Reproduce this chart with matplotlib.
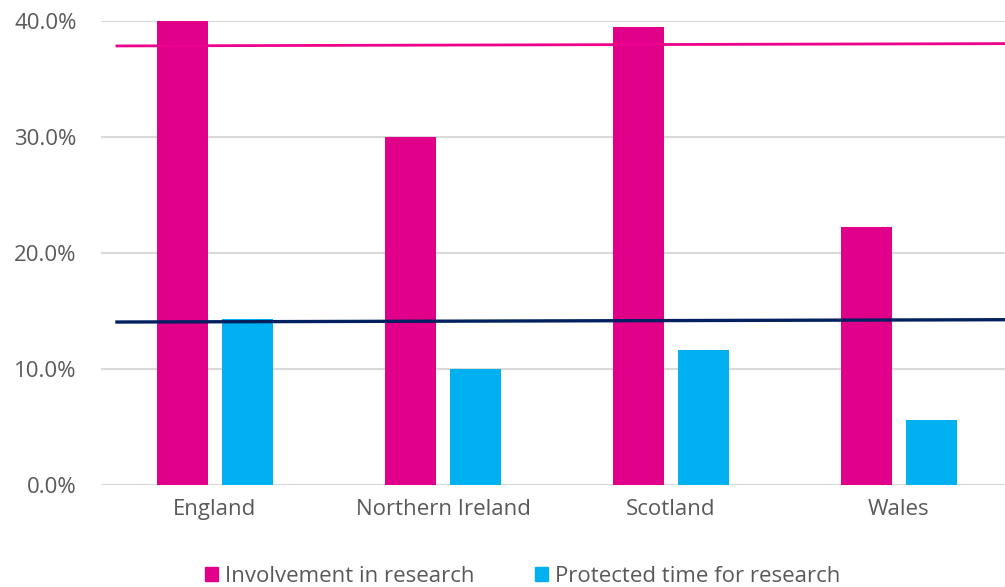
import matplotlib.pyplot as plt
import matplotlib.patches as mpatches
import numpy as np

plt.rcParams["font.family"] = ["Open Sans", "DejaVu Sans"]

countries = ["England", "Northern Ireland", "Scotland", "Wales"]
involvement = [40.0, 30.0, 39.5, 22.2]
protected_time = [14.3, 10.0, 11.6, 5.6]
# UK-wide reference levels (start, end)
involvement_avg = [37.85, 38.05]
protected_avg = [14.05, 14.25]
ticks = [0, 10, 20, 30, 40]

PINK = "#E0008A"
BLUE = "#00B0F0"
NAVY = "#002060"
GREY = "#595959"

fig = plt.figure(figsize=(10.05, 5.87), dpi=100)
ax = fig.add_axes([101 / 1005, 1 - 485 / 587, 1 - 101 / 1005, (485 - 21) / 587])

x = np.arange(len(countries))
w = 0.224
ax.bar(x - 0.1425, involvement, w, color=PINK, zorder=2, clip_on=False)
ax.bar(x + 0.1425, protected_time, w, color=BLUE, zorder=2, clip_on=False)

x_lo, x_hi = -0.5, 3.465
ax.plot([-0.43, x_hi], involvement_avg, color="#EC008C", lw=2, zorder=3, clip_on=False)
ax.plot([-0.43, x_hi], protected_avg, color=NAVY, lw=2.4, zorder=3, clip_on=False)

ax.set_xlim(x_lo, x_hi)
ax.set_ylim(0, 40)
ax.set_yticks(ticks)
ax.set_yticklabels([f"{t:.1f}%" for t in ticks])
ax.set_xticks(x)
ax.set_xticklabels(countries)
ax.yaxis.grid(True, color="#d9d9d9", lw=1.5, zorder=0)
ax.set_axisbelow(True)
for s in ax.spines.values():
    s.set_visible(False)
ax.tick_params(axis="both", length=0, labelsize=16, colors=GREY)
ax.tick_params(axis="y", pad=17.5)
ax.tick_params(axis="x", pad=10)

handles = [mpatches.Patch(color=PINK, label="Involvement in research"),
           mpatches.Patch(color=BLUE, label="Protected time for research")]
fig.legend(handles=handles, loc="center", bbox_to_anchor=(0.52, 0.018), ncol=2,
           frameon=False, fontsize=16, labelcolor=GREY, handlelength=0.6,
           handleheight=0.6, handletextpad=0.3, columnspacing=2.7)

fig.savefig("out.png", dpi=100)
